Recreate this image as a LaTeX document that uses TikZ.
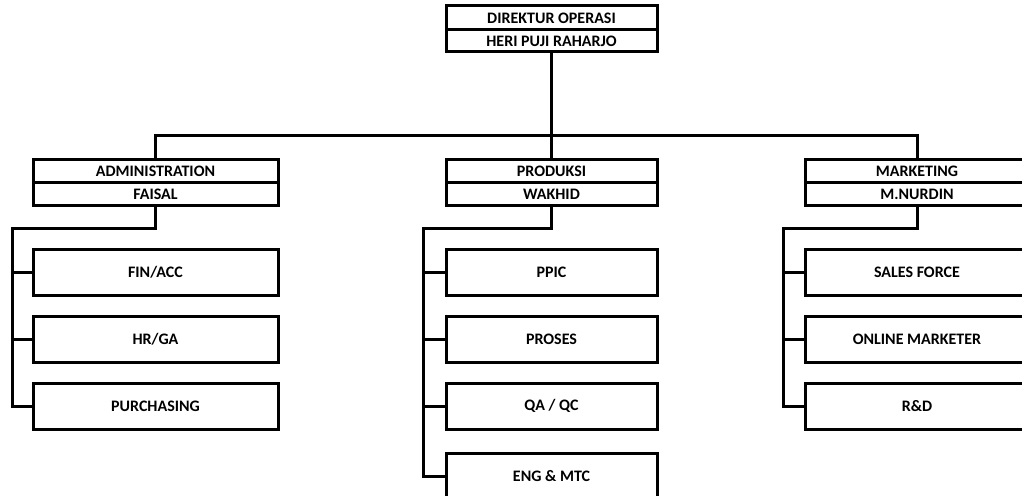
\documentclass[tikz,border=0pt]{standalone}
\usepackage{fontspec}
\setmainfont{Carlito}
\usepackage{tikz}
\usetikzlibrary{calc}

\begin{document}
\begin{tikzpicture}[x=1pt,y=-1pt,
  line width=3pt,
  hdr/.style={draw,fill=white,minimum height=23pt,inner sep=0pt,font=\fontsize{16}{18}\selectfont\bfseries},
  unit/.style={draw,fill=white,minimum width=245pt,minimum height=46pt,inner sep=0pt,font=\fontsize{16}{18}\selectfont\bfseries},
]
\clip (0,0) rectangle (1022,495);
% direktur
\node[hdr,minimum width=211pt,minimum height=24pt] (dir1) at (551.5,18) {DIREKTUR OPERASI};
\node[hdr,minimum width=211pt,minimum height=22pt] (dir2) at (551.5,41) {HERI PUJI RAHARJO};
% departemen
\node[hdr,minimum width=245pt] (adm1) at (155.5,171) {ADMINISTRATION};
\node[hdr,minimum width=245pt] (adm2) at (155.5,194) {FAISAL};
\node[hdr,minimum width=211pt] (prd1) at (551.5,171) {PRODUKSI};
\node[hdr,minimum width=211pt] (prd2) at (551.5,194) {WAKHID};
\node[hdr,minimum width=224pt] (mkt1) at (917,171) {MARKETING};
\node[hdr,minimum width=224pt] (mkt2) at (917,194) {M.NURDIN};
% bagian
\node[unit] (fin) at (155.5,272) {FIN/ACC};
\node[unit] (hrga) at (155.5,339) {HR/GA};
\node[unit] (pur) at (155.5,406) {PURCHASING};
\node[unit,minimum width=211pt] (ppic) at (551.5,272) {PPIC};
\node[unit,minimum width=211pt] (pros) at (551.5,339) {PROSES};
\node[unit,minimum width=211pt] (qaqc) at (551.5,406) {QA / QC};
\node[unit,minimum width=211pt] (eng) at (551.5,476) {ENG \& MTC};
\node[unit,minimum width=224pt] (sales) at (917,272) {SALES FORCE};
\node[unit,minimum width=224pt] (onl) at (917,339) {ONLINE MARKETER};
\node[unit,minimum width=224pt] (rnd) at (917,406) {R\&D};
% garis
\coordinate (admbus) at (12,228);
\coordinate (prdbus) at (423,228);
\coordinate (mktbus) at (783,228);
\draw (dir2.south) -- (dir2.south |- 0,137);
\draw (adm1.north) -- ++(0,-23) -| (mkt1.north);
\draw (prd1.north) -- ++(0,-23);
\draw (adm2.south) |- (admbus) |- (pur.west);
\draw (prd2.south) |- (prdbus) |- (eng.west);
\draw (mkt2.south) |- (mktbus) |- (rnd.west);
\foreach \n in {fin,hrga} \draw (admbus |- \n.west) -- (\n.west);
\foreach \n in {ppic,pros,qaqc} \draw (prdbus |- \n.west) -- (\n.west);
\foreach \n in {sales,onl} \draw (mktbus |- \n.west) -- (\n.west);
\end{tikzpicture}
\end{document}
